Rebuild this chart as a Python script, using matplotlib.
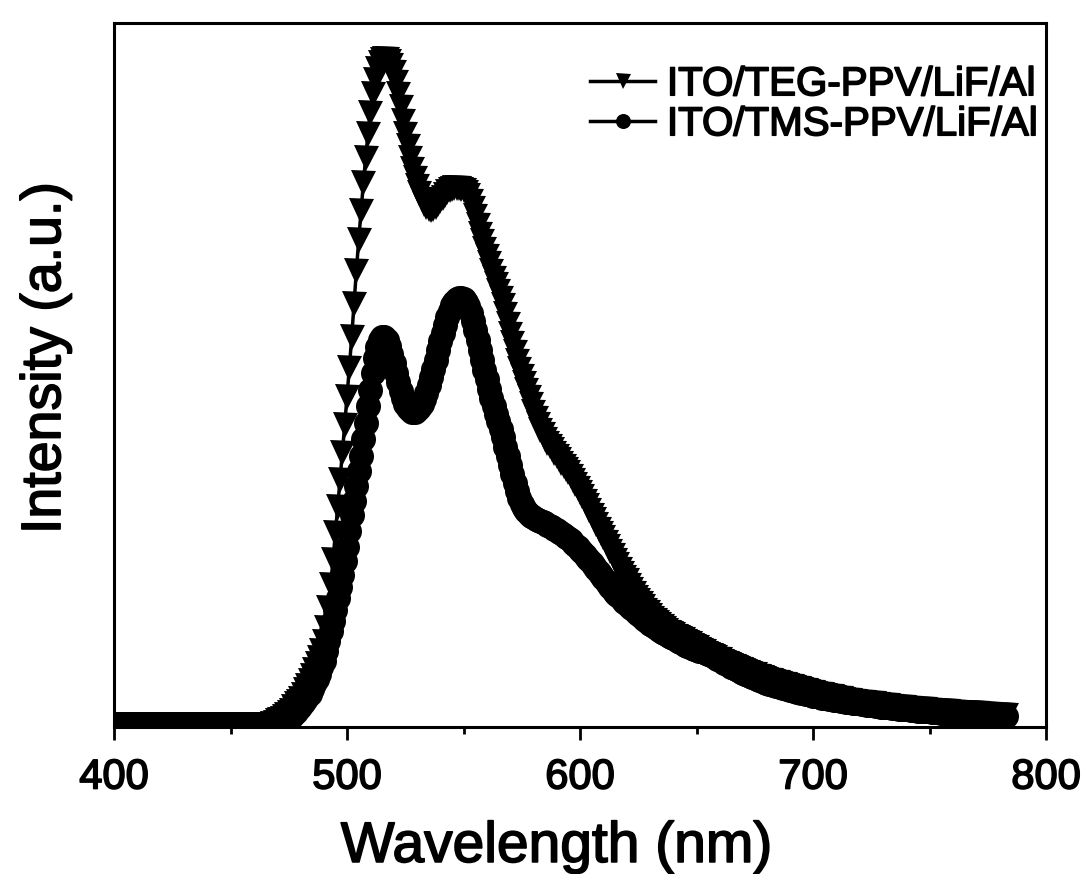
import numpy as np
import matplotlib
matplotlib.use("Agg")
import matplotlib.pyplot as plt
import matplotlib.patheffects as pe
from matplotlib.ticker import MultipleLocator

plt.rcParams['font.family'] = ['Liberation Sans', 'DejaVu Sans']

# EL spectra, 1 nm steps starting at 400 nm
teg = [
    # 400-459
    -0.008, -0.008, -0.008, -0.008, -0.008, -0.008, -0.008, -0.008, -0.008, -0.008,
    -0.008, -0.008, -0.008, -0.008, -0.008, -0.008, -0.008, -0.008, -0.008, -0.008,
    -0.008, -0.008, -0.008, -0.008, -0.008, -0.008, -0.008, -0.008, -0.008, -0.008,
    -0.008, -0.008, -0.008, -0.008, -0.008, -0.008, -0.008, -0.008, -0.008, -0.008,
    -0.008, -0.008, -0.008, -0.008, -0.008, -0.008, -0.008, -0.008, -0.008, -0.008,
    -0.008, -0.008, -0.008, -0.008, -0.008, -0.008, -0.008, -0.008, -0.008, -0.008,
    # 460-
    -0.008, -0.008, -0.008, -0.008, -0.008, -0.008, -0.008, -0.007, -0.006, -0.004,
    -0.002, 0.000, 0.002, 0.005, 0.008, 0.011, 0.014, 0.019, 0.024, 0.028,
    0.032, 0.038, 0.045, 0.052, 0.059, 0.067, 0.076, 0.085, 0.094, 0.105,
    0.118, 0.140, 0.170, 0.205, 0.243, 0.283, 0.323, 0.364, 0.405, 0.447,
    0.490, 0.534, 0.580, 0.630, 0.680, 0.727, 0.771, 0.813, 0.852, 0.888,
    0.920, 0.948, 0.970, 0.986, 0.996, 1.000, 1.002, 1.002, 0.999, 0.993,
    0.982, 0.966, 0.948, 0.928, 0.908, 0.888, 0.869, 0.851, 0.835, 0.821,
    0.809, 0.798, 0.789, 0.782, 0.777, 0.774, 0.773, 0.774, 0.777, 0.781,
    0.786, 0.791, 0.796, 0.800, 0.803, 0.805, 0.806, 0.806, 0.806, 0.805,
    0.803, 0.800, 0.795, 0.786, 0.775, 0.763, 0.750, 0.737, 0.725, 0.714,
    0.703, 0.692, 0.680, 0.670, 0.660, 0.650, 0.640, 0.628, 0.615, 0.600,
    0.585, 0.571, 0.557, 0.544, 0.532, 0.521, 0.510, 0.500, 0.490, 0.478,
    0.466, 0.457, 0.448, 0.440, 0.433, 0.426, 0.420, 0.415, 0.410, 0.405,
    0.400, 0.395, 0.390, 0.385, 0.380, 0.375, 0.369, 0.363, 0.357, 0.351,
    0.345, 0.339, 0.332, 0.325, 0.318, 0.311, 0.304, 0.297, 0.290, 0.283,
    0.277, 0.270, 0.263, 0.256, 0.250, 0.243, 0.236, 0.229, 0.223, 0.217,
    0.212, 0.205, 0.199, 0.193, 0.187, 0.182, 0.177, 0.172, 0.167, 0.163,
    0.159, 0.155, 0.151, 0.148, 0.145, 0.142, 0.139, 0.137, 0.134, 0.132,
    0.130, 0.128, 0.126, 0.124, 0.122, 0.120, 0.118, 0.116, 0.114, 0.112,
    0.110, 0.108, 0.106, 0.104, 0.102, 0.100, 0.099, 0.097, 0.095, 0.093,
    0.092, 0.090, 0.088, 0.087, 0.085, 0.083, 0.082, 0.080, 0.079, 0.077,
    0.076, 0.074, 0.073, 0.071, 0.070, 0.069, 0.067, 0.066, 0.065, 0.063,
    0.062, 0.061, 0.060, 0.059, 0.058, 0.057, 0.056, 0.055, 0.054, 0.053,
    0.052, 0.051, 0.050, 0.049, 0.048, 0.047, 0.046, 0.045, 0.044, 0.043,
    0.042, 0.041, 0.040, 0.040, 0.039, 0.038, 0.037, 0.036, 0.036, 0.035,
    0.034, 0.033, 0.033, 0.032, 0.031, 0.031, 0.030, 0.029, 0.029, 0.028,
    0.028, 0.027, 0.027, 0.026, 0.026, 0.025, 0.025, 0.024, 0.024, 0.023,
    0.023, 0.022, 0.022, 0.021, 0.021, 0.020, 0.020, 0.020, 0.019, 0.019,
    0.018, 0.018, 0.018, 0.017, 0.017, 0.017, 0.016, 0.016, 0.016, 0.015,
    0.015, 0.015, 0.014, 0.014, 0.014, 0.013, 0.013, 0.013, 0.013, 0.012,
    0.012, 0.012, 0.012, 0.011, 0.011, 0.011, 0.011, 0.010, 0.010, 0.010,
    0.010, 0.010, 0.009, 0.009, 0.009, 0.009, 0.009, 0.008, 0.008, 0.008,
    0.008, 0.008, 0.008, 0.008,
]

tms = [
    # 400-469
    -0.008, -0.008, -0.008, -0.008, -0.008, -0.008, -0.008, -0.008, -0.008, -0.008,
    -0.008, -0.008, -0.008, -0.008, -0.008, -0.008, -0.008, -0.008, -0.008, -0.008,
    -0.008, -0.008, -0.008, -0.008, -0.008, -0.008, -0.008, -0.008, -0.008, -0.008,
    -0.008, -0.008, -0.008, -0.008, -0.008, -0.008, -0.008, -0.008, -0.008, -0.008,
    -0.008, -0.008, -0.008, -0.008, -0.008, -0.008, -0.008, -0.008, -0.008, -0.008,
    -0.008, -0.008, -0.008, -0.008, -0.008, -0.008, -0.008, -0.008, -0.008, -0.008,
    -0.008, -0.008, -0.008, -0.008, -0.008, -0.008, -0.008, -0.008, -0.008, -0.008,
    # 470-
    -0.007, -0.006, -0.005, -0.003, -0.001, 0.002, 0.005, 0.008, 0.012, 0.016,
    0.020, 0.025, 0.030, 0.035, 0.040, 0.047, 0.055, 0.062, 0.070, 0.080,
    0.090, 0.105, 0.120, 0.135, 0.150, 0.167, 0.185, 0.202, 0.220, 0.241,
    0.262, 0.286, 0.310, 0.332, 0.355, 0.377, 0.400, 0.425, 0.450, 0.475,
    0.500, 0.525, 0.548, 0.565, 0.576, 0.580, 0.580, 0.576, 0.567, 0.555,
    0.541, 0.526, 0.512, 0.499, 0.488, 0.479, 0.473, 0.469, 0.467, 0.467,
    0.469, 0.473, 0.479, 0.487, 0.496, 0.507, 0.519, 0.532, 0.546, 0.560,
    0.574, 0.587, 0.599, 0.610, 0.620, 0.628, 0.634, 0.638, 0.640, 0.640,
    0.638, 0.634, 0.627, 0.617, 0.605, 0.591, 0.576, 0.561, 0.546, 0.531,
    0.516, 0.502, 0.488, 0.475, 0.464, 0.453, 0.441, 0.428, 0.414, 0.400,
    0.386, 0.372, 0.359, 0.347, 0.337, 0.328, 0.321, 0.316, 0.312, 0.309,
    0.307, 0.305, 0.303, 0.301, 0.300, 0.298, 0.296, 0.294, 0.292, 0.290,
    0.288, 0.285, 0.283, 0.280, 0.278, 0.275, 0.272, 0.268, 0.265, 0.262,
    0.258, 0.254, 0.250, 0.246, 0.242, 0.238, 0.234, 0.229, 0.224, 0.220,
    0.215, 0.211, 0.206, 0.202, 0.197, 0.193, 0.190, 0.186, 0.183, 0.179,
    0.176, 0.173, 0.169, 0.166, 0.163, 0.160, 0.157, 0.154, 0.151, 0.149,
    0.146, 0.144, 0.141, 0.139, 0.136, 0.134, 0.132, 0.130, 0.128, 0.126,
    0.124, 0.122, 0.120, 0.118, 0.116, 0.114, 0.112, 0.111, 0.109, 0.107,
    0.106, 0.105, 0.104, 0.103, 0.102, 0.100, 0.099, 0.097, 0.095, 0.093,
    0.091, 0.089, 0.087, 0.085, 0.083, 0.081, 0.079, 0.077, 0.075, 0.073,
    0.071, 0.070, 0.068, 0.066, 0.065, 0.063, 0.062, 0.060, 0.059, 0.057,
    0.056, 0.055, 0.054, 0.053, 0.052, 0.051, 0.050, 0.049, 0.048, 0.047,
    0.046, 0.045, 0.044, 0.043, 0.042, 0.041, 0.041, 0.040, 0.039, 0.038,
    0.037, 0.037, 0.036, 0.035, 0.034, 0.034, 0.033, 0.032, 0.032, 0.031,
    0.030, 0.030, 0.029, 0.029, 0.028, 0.027, 0.027, 0.026, 0.026, 0.025,
    0.025, 0.024, 0.024, 0.023, 0.023, 0.022, 0.022, 0.021, 0.021, 0.020,
    0.020, 0.020, 0.019, 0.019, 0.018, 0.018, 0.018, 0.017, 0.017, 0.016,
    0.016, 0.016, 0.015, 0.015, 0.015, 0.014, 0.014, 0.014, 0.013, 0.013,
    0.013, 0.012, 0.012, 0.012, 0.012, 0.011, 0.011, 0.011, 0.010, 0.010,
    0.010, 0.010, 0.009, 0.009, 0.009, 0.009, 0.008, 0.008, 0.008, 0.008,
    0.008, 0.007, 0.007, 0.007, 0.007, 0.007, 0.006, 0.006, 0.006, 0.006,
    0.006, 0.006, 0.006, 0.006,
]

labels = ["ITO/TEG-PPV/LiF/Al", "ITO/TMS-PPV/LiF/Al"]

wl_teg = 400 + np.arange(len(teg))
wl_tms = 400 + np.arange(len(tms))

# scanned-looking heavy text
heavy = [pe.withStroke(linewidth=1.2, foreground="black")]

fig = plt.figure(figsize=(10.87, 8.74), dpi=100)
ax = fig.add_axes([0.1049, 0.1682, 0.8574, 0.8055])

ax.plot(wl_teg, teg, "k-", lw=2.5, marker="v", ms=18, mew=0, label=labels[0])
ax.plot(wl_tms, tms, "k-", lw=2.5, marker="o", ms=18, mew=0, label=labels[1])

ax.set_xlim(400, 800)
ax.set_ylim(-0.0106, 1.056)

ax.xaxis.set_major_locator(MultipleLocator(100))
ax.xaxis.set_minor_locator(MultipleLocator(50))
ax.tick_params(axis="x", which="major", direction="out", length=9, width=2,
               labelsize=30, pad=13)
ax.tick_params(axis="x", which="minor", direction="out", length=5, width=2)
ax.set_yticks([])
for s in ax.spines.values():
    s.set_linewidth(2.2)
for t in ax.get_xticklabels():
    t.set_path_effects(heavy)

ax.set_xlabel("Wavelength (nm)", fontsize=41, path_effects=heavy)
ax.xaxis.set_label_coords(0.475, -0.132)
ax.set_ylabel("Intensity (a.u.)", fontsize=40, path_effects=heavy)
ax.yaxis.set_label_coords(-0.045, 0.524)

leg = ax.legend(loc="upper right", bbox_to_anchor=(0.990, 0.94), frameon=False,
                fontsize=29, markerscale=0.6, handlelength=1.6, handletextpad=0.3,
                labelspacing=0.05, borderpad=0, borderaxespad=0)
for t in leg.get_texts():
    t.set_path_effects(heavy)

fig.savefig("out.png", dpi=100)
